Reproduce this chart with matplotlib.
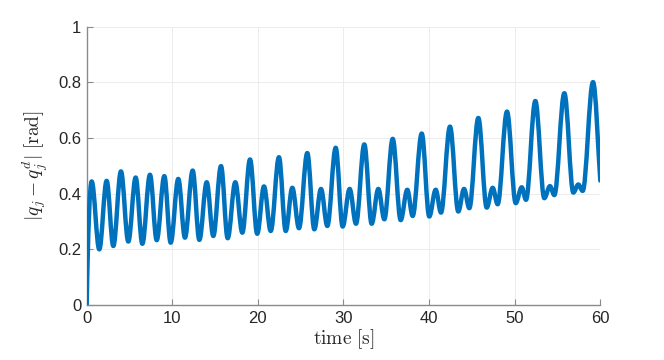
import matplotlib
matplotlib.use("Agg")
import matplotlib.pyplot as plt
from matplotlib.path import Path
from matplotlib.patches import PathPatch

# Extremum points (time [s], |q_j - q_j^d| [rad])
t_pts = [0.0, 0.58, 1.47, 2.33, 3.11, 4.00, 4.86, 5.72, 6.50, 7.39, 8.18,
         9.07, 9.81, 10.70, 11.48, 12.38, 13.16, 14.02, 14.79, 15.69, 16.47,
         17.36, 18.18, 19.08, 19.92, 20.71, 21.50, 22.46, 23.25, 24.02, 24.80,
         25.77, 26.59, 27.37, 28.11, 29.09, 29.90, 30.72, 31.46, 32.43, 33.29,
         34.07, 34.77, 35.75, 36.68, 37.45, 38.08, 39.14, 40.02, 40.77, 41.39,
         42.44, 43.41, 44.08, 44.70, 45.75, 46.73, 47.43, 48.01, 49.10, 50.12,
         50.82, 51.32, 52.41, 53.46, 54.12, 54.63, 55.80, 56.85, 57.43, 57.94,
         59.15, 60.0]
e_pts = [0.0, 0.444, 0.200, 0.446, 0.212, 0.480, 0.228, 0.458, 0.220, 0.468, 0.233,
         0.463, 0.224, 0.453, 0.242, 0.483, 0.234, 0.441, 0.248, 0.499, 0.240,
         0.441, 0.260, 0.523, 0.256, 0.426, 0.266, 0.531, 0.266, 0.421, 0.276,
         0.546, 0.272, 0.417, 0.284, 0.565, 0.282, 0.417, 0.292, 0.577, 0.292,
         0.417, 0.308, 0.597, 0.305, 0.414, 0.320, 0.616, 0.318, 0.414, 0.332,
         0.641, 0.336, 0.417, 0.348, 0.672, 0.350, 0.421, 0.362, 0.695, 0.366,
         0.423, 0.378, 0.733, 0.384, 0.427, 0.395, 0.761, 0.404, 0.433, 0.410,
         0.801, 0.447]

x_ticks = [0, 10, 20, 30, 40, 50, 60]
y_ticks = [0, 0.2, 0.4, 0.6, 0.8, 1]

LINE_COLOR = "#0072BD"
K = 0.364  # cubic Bezier handle fraction (half-cosine like shape)

plt.rcParams['mathtext.fontset'] = 'cm'
plt.rcParams['font.family'] = ['Liberation Sans', 'DejaVu Sans']

fig = plt.figure(figsize=(6.64, 3.60), dpi=100)
ax = fig.add_axes([86.7 / 664, 55 / 360, (600.3 - 86.7) / 664, (305 - 26.7) / 360])

# Build a smooth curve through the extrema (horizontal tangents at extrema)
verts = [(t_pts[0], e_pts[0])]
codes = [Path.MOVETO]
n = len(t_pts)
for i in range(n - 1):
    x0, y0 = t_pts[i], e_pts[i]
    x1, y1 = t_pts[i + 1], e_pts[i + 1]
    dx, dy = x1 - x0, y1 - y0
    if i == 0:
        c1 = (x0 + dx * 0.25, y0 + dy * 0.6)
    else:
        c1 = (x0 + K * dx, y0)
    if i == n - 2:
        c2 = (x1 - dx * 0.3, y1 - dy * 0.3)
    else:
        c2 = (x1 - K * dx, y1)
    verts += [c1, c2, (x1, y1)]
    codes += [Path.CURVE4, Path.CURVE4, Path.CURVE4]

patch = PathPatch(Path(verts, codes), facecolor='none', edgecolor=LINE_COLOR,
                  lw=3.2, capstyle='round', joinstyle='round', zorder=3)
ax.add_patch(patch)

ax.set_xlim(0, 60)
ax.set_ylim(0, 1)
ax.set_xticks(x_ticks)
ax.set_yticks(y_ticks)
ax.set_xticklabels([str(v) for v in x_ticks])
ax.set_yticklabels(['0', '0.2', '0.4', '0.6', '0.8', '1'])

ax.grid(True, color='#ececec', lw=0.7)
ax.set_axisbelow(True)
for s in ['top', 'right']:
    ax.spines[s].set_visible(False)
for s in ['left', 'bottom']:
    ax.spines[s].set_color('#8a8a8a')
    ax.spines[s].set_linewidth(1.0)
ax.tick_params(direction='in', length=4, width=0.8, color='#8a8a8a',
               labelcolor='#262626', labelsize=12, pad=4)

ax.set_xlabel(r'$\mathrm{time\ [s]}$', fontsize=14, color='#262626', labelpad=1)
ax.set_ylabel(r'$|q_j - q_j^d|\ \mathrm{[rad]}$', fontsize=14, color='#262626', labelpad=6)

fig.savefig('out.png', dpi=100)
